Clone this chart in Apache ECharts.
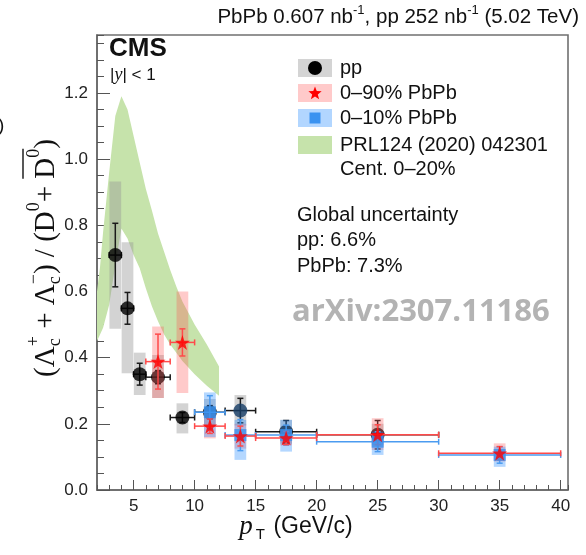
<!DOCTYPE html>
<html>
<head>
<meta charset="utf-8">
<script src="https://cdn.jsdelivr.net/npm/echarts@6/dist/echarts.min.js"></script>
<style>
  html, body { margin: 0; padding: 0; background: #ffffff; }
  #chart { width: 586px; height: 555px; }
</style>
</head>
<body>
<div id="chart"></div>
<script>
// ---- pp reference ----
const ppPt    = [3.5, 4.5, 5.5, 7, 9, 11.25, 13.75, 17.5, 25];
const ppXLo   = [3, 4, 5, 6, 8, 10, 12.5, 15, 20];
const ppXHi   = [4, 5, 6, 8, 10, 12.5, 15, 20, 30];
const ppVal   = [0.710, 0.549, 0.350, 0.341, 0.219, 0.235, 0.240, 0.176, 0.167];
const ppStat  = [0.096, 0.048, 0.033, 0.020, 0.015, 0.020, 0.037, 0.034, 0.043];
const ppSysLo = [0.487, 0.353, 0.287, 0.278, 0.171, 0.195, 0.195, 0.140, 0.135];
const ppSysHi = [0.932, 0.749, 0.415, 0.408, 0.262, 0.275, 0.287, 0.212, 0.200];

// ---- PbPb 0-90% ----
const mbPt    = [7, 9, 11.25, 13.75, 17.5, 25, 35];
const mbXLo   = [6, 8, 10, 12.5, 15, 20, 30];
const mbXHi   = [8, 10, 12.5, 15, 20, 30, 40];
const mbVal   = [0.388, 0.446, 0.193, 0.163, 0.157, 0.167, 0.111];
const mbStat  = [0.083, 0.041, 0.022, 0.030, 0.020, 0.030, 0.020];
const mbSysLo = [0.278, 0.293, 0.156, 0.125, 0.135, 0.121, 0.086];
const mbSysHi = [0.494, 0.600, 0.230, 0.200, 0.180, 0.217, 0.141];

// ---- PbPb 0-10% ----
const ctPt    = [11.25, 13.75, 17.5, 25, 35];
const ctXLo   = [10, 12.5, 15, 20, 30];
const ctXHi   = [12.5, 15, 20, 30, 40];
const ctVal   = [0.235, 0.166, 0.166, 0.146, 0.106];
const ctStat  = [0.050, 0.047, 0.030, 0.030, 0.025];
const ctSysLo = [0.160, 0.091, 0.116, 0.106, 0.070];
const ctSysHi = [0.295, 0.212, 0.212, 0.176, 0.131];

// ---- model band, PRL124 (2020) 042301, 0-20% ----
const bandPt = [2, 2.25, 2.5, 3, 3.5, 4, 4.5, 5, 5.5, 6, 6.5, 7, 7.5, 8, 8.5, 9, 10, 11, 12];
const bandLo = [0.45, 0.47, 0.49, 0.56, 0.68, 0.79, 0.76, 0.71, 0.67, 0.61, 0.555, 0.51, 0.47, 0.44, 0.415, 0.39, 0.35, 0.315, 0.285];
const bandHi = [0.60, 0.675, 0.78, 0.96, 1.13, 1.19, 1.15, 1.07, 0.99, 0.91, 0.845, 0.775, 0.72, 0.665, 0.615, 0.57, 0.50, 0.44, 0.373];

// ---- axis ticks ----
const xMajorTicks = [5, 10, 15, 20, 25, 30, 35, 40];
const yMajorTicks = [0, 0.2, 0.4, 0.6, 0.8, 1.0, 1.2];

const SANS = '"Liberation Sans", Arial, sans-serif';
const SERIF = '"Liberation Serif", "Times New Roman", serif';

const chart = echarts.init(document.getElementById('chart'), null, { renderer: 'canvas' });

function boxRenderer(fill) {
  return function (params, api) {
    const x = api.value(0), lo = api.value(1), hi = api.value(2);
    const a = api.coord([x - 0.48, hi]);
    const b = api.coord([x + 0.48, lo]);
    return { type: 'rect', shape: { x: a[0], y: a[1], width: b[0] - a[0], height: b[1] - a[1] }, style: { fill: fill } };
  };
}

function errRenderer(color) {
  return function (params, api) {
    const x = api.value(0), y = api.value(1);
    const xl = api.value(2), xh = api.value(3), yl = api.value(4), yh = api.value(5);
    const c = api.coord([x, y]);
    const l = api.coord([xl, y]), r = api.coord([xh, y]);
    const b = api.coord([x, yl]), t = api.coord([x, yh]);
    const st = { stroke: color, lineWidth: 1.5 };
    const cap = 3;
    return {
      type: 'group',
      children: [
        { type: 'line', shape: { x1: l[0], y1: c[1], x2: r[0], y2: c[1] }, style: st },
        { type: 'line', shape: { x1: l[0], y1: c[1] - cap, x2: l[0], y2: c[1] + cap }, style: st },
        { type: 'line', shape: { x1: r[0], y1: c[1] - cap, x2: r[0], y2: c[1] + cap }, style: st },
        { type: 'line', shape: { x1: c[0], y1: b[1], x2: c[0], y2: t[1] }, style: st },
        { type: 'line', shape: { x1: c[0] - cap, y1: b[1], x2: c[0] + cap, y2: b[1] }, style: st },
        { type: 'line', shape: { x1: c[0] - cap, y1: t[1], x2: c[0] + cap, y2: t[1] }, style: st }
      ]
    };
  };
}

const STAR = 'path://M50,0 L61.8,35.1 L98.1,35.1 L68.8,56.8 L79.4,91.4 L50,70.5 L20.6,91.4 L31.2,56.8 L1.9,35.1 L38.2,35.1 Z';

function starPoints(cx, cy, R) {
  const pts = [];
  const r = R * 0.42;
  for (let i = 0; i < 10; i++) {
    const ang = -Math.PI / 2 + i * Math.PI / 5;
    const rad = i % 2 === 0 ? R : r;
    pts.push([cx + rad * Math.cos(ang), cy + rad * Math.sin(ang)]);
  }
  return pts;
}

function txt(x, y, text, font, extra) {
  return {
    type: 'text', x: x, y: y,
    style: Object.assign({ text: text, font: font, fill: '#111',
      textAlign: 'left', align: 'left', textVerticalAlign: 'middle', verticalAlign: 'middle' }, extra || {})
  };
}

// y-axis title laid out piece by piece (sub/superscripts, overline)
function yTitle() {
  const ctx = document.createElement('canvas').getContext('2d');
  const big = '29px ' + SERIF, small = '18px ' + SERIF;
  const parts = [
    ['(', big, 0], ['\u039B', big, 0], ['c', small, 9], ['+', small, -12, 'stack'],
    [' + \u039B', big, 0], ['c', small, 9], ['\u2212', small, -12, 'stack'],
    [') / (D', big, 0], ['0', small, -12], ['+ ', big, 0],
    ['D', big, 0, 'olStart'], ['0', small, -12, 'olEnd'], [')', big, 0]
  ];
  let cur = 0, prevStart = 0;
  const placed = [];
  let olA = 0, olB = 0;
  parts.forEach(p => {
    ctx.font = p[1];
    const w = ctx.measureText(p[0]).width;
    let x0 = cur;
    if (p[3] === 'stack') { x0 = prevStart; }
    placed.push({ text: p[0], font: p[1], x: x0, dy: p[2] });
    if (p[3] === 'olStart') olA = x0;
    if (p[3] === 'olEnd') olB = x0 + w;
    cur = Math.max(cur, x0 + w);
    prevStart = x0;
  });
  const off = -cur / 2;
  const children = placed.map(q => txt(q.x + off, q.dy, q.text, q.font));
  children.push({ type: 'line', shape: { x1: olA + off, y1: -23, x2: olB + off, y2: -23 }, style: { stroke: '#111', lineWidth: 1.4 } });
  return { type: 'group', x: 46, y: 258, rotation: Math.PI / 2, children: children };
}

const option = {
  animation: false,
  backgroundColor: '#ffffff',
  grid: { left: 97, right: 18, top: 35, bottom: 65, show: true, borderColor: '#707070', borderWidth: 1.6, backgroundColor: 'transparent' },
  xAxis: [
    {
      type: 'value', min: 2, max: 40.6, interval: 1, position: 'bottom',
      axisLine: { show: true, lineStyle: { color: '#666', width: 1.5 } },
      axisTick: { show: true, inside: true, length: 5, lineStyle: { color: '#555', width: 1 } },
      axisLabel: {
        color: '#222', fontSize: 17, fontFamily: SANS, margin: 8,
        formatter: v => (Math.abs(v % 5) < 1e-9 && v >= 5 && v <= 40) ? String(v) : ''
      },
      splitLine: { show: false }
    },
    {
      type: 'value', min: 2, max: 40.6, position: 'bottom',
      axisLine: { show: false },
      axisTick: { show: true, inside: true, length: 10, customValues: xMajorTicks, lineStyle: { color: '#555', width: 1 } },
      axisLabel: { show: false },
      splitLine: { show: false }
    }
  ],
  yAxis: [
    {
      type: 'value', min: 0, max: 1.375, interval: 0.05, position: 'left',
      axisLine: { show: true, lineStyle: { color: '#666', width: 1.5 } },
      axisTick: { show: true, inside: true, length: 7, lineStyle: { color: '#555', width: 1 } },
      axisLabel: {
        color: '#222', fontSize: 17, fontFamily: SANS, margin: 9,
        formatter: v => {
          const k = Math.round(v / 0.2);
          return (Math.abs(v - k * 0.2) < 1e-6 && v <= 1.2 + 1e-6) ? (k * 0.2).toFixed(1) : '';
        }
      },
      splitLine: { show: false }
    },
    {
      type: 'value', min: 0, max: 1.375, position: 'left',
      axisLine: { show: false },
      axisTick: { show: true, inside: true, length: 13, customValues: yMajorTicks, lineStyle: { color: '#555', width: 1 } },
      axisLabel: { show: false },
      splitLine: { show: false }
    }
  ],
  series: [
    {
      name: 'PRL124 (2020) 042301', type: 'custom', z: 1,
      data: bandPt.map((p, i) => [p, bandLo[i], bandHi[i]]),
      renderItem: function (params, api) {
        if (params.dataIndex !== 0) return null;
        const top = bandPt.map((p, i) => api.coord([p, bandHi[i]]));
        const bot = bandPt.map((p, i) => api.coord([p, bandLo[i]])).reverse();
        return { type: 'polygon', shape: { points: top.concat(bot) }, style: { fill: '#c6e3ab' } };
      }
    },
    {
      name: 'pp syst', type: 'custom', z: 2,
      data: ppPt.map((p, i) => [p, ppSysLo[i], ppSysHi[i]]),
      renderItem: boxRenderer('rgba(150,150,150,0.42)')
    },
    {
      name: 'pp stat', type: 'custom', z: 3,
      data: ppPt.map((p, i) => [p, ppVal[i], ppXLo[i], ppXHi[i], ppVal[i] - ppStat[i], ppVal[i] + ppStat[i]]),
      renderItem: errRenderer('#1a1a1a')
    },
    {
      name: 'pp', type: 'scatter', z: 4, symbol: 'circle', symbolSize: 14,
      data: ppPt.map((p, i) => [p, ppVal[i]]),
      itemStyle: { color: params => (params.dataIndex === 6 ? '#173d66' : '#000000') }
    },
    {
      name: '0-90% syst', type: 'custom', z: 5,
      data: mbPt.map((p, i) => [p, mbSysLo[i], mbSysHi[i]]),
      renderItem: boxRenderer('rgba(255,80,80,0.30)')
    },
    {
      name: '0-10% syst', type: 'custom', z: 6,
      data: ctPt.map((p, i) => [p, ctSysLo[i], ctSysHi[i]]),
      renderItem: boxRenderer('rgba(40,140,255,0.35)')
    },
    {
      name: '0-10% stat', type: 'custom', z: 7,
      data: ctPt.map((p, i) => [p, ctVal[i], ctXLo[i], ctXHi[i], ctVal[i] - ctStat[i], ctVal[i] + ctStat[i]]),
      renderItem: errRenderer('#4b9bf0')
    },
    {
      name: '0-90% stat', type: 'custom', z: 7,
      data: mbPt.map((p, i) => [p, mbVal[i], mbXLo[i], mbXHi[i], mbVal[i] - mbStat[i], mbVal[i] + mbStat[i]]),
      renderItem: errRenderer('#ff4a4a')
    },
    {
      name: '0-10% PbPb', type: 'scatter', z: 8, symbol: 'rect', symbolSize: 12,
      data: ctPt.map((p, i) => [p, ctVal[i]]),
      itemStyle: { color: '#3a92f0' }
    },
    {
      name: '0-90% PbPb', type: 'scatter', z: 9, symbol: STAR, symbolSize: 15,
      data: mbPt.map((p, i) => [p, mbVal[i]]),
      itemStyle: { color: '#ff0000' }
    }
  ],
  graphic: [
    // header
    {
      type: 'text', x: 579, y: 17,
      style: {
        text: '{a|PbPb 0.607 nb}{s|-1}{a|, pp 252 nb}{s|-1}{a| (5.02 TeV)}',
        textAlign: 'right', align: 'right', textVerticalAlign: 'middle', verticalAlign: 'middle',
        rich: {
          a: { font: '20.5px ' + SANS, fill: '#111' },
          s: { font: '13px ' + SANS, fill: '#111', padding: [0, 0, 13, 0] }
        }
      }
    },
    txt(-2, 126, ')', '19px ' + SANS),
    txt(109, 49, 'CMS', 'bold 26px ' + SANS),
    {
      type: 'text', x: 110, y: 75,
      style: {
        text: '{a||}{i|y}{a|| < 1}',
        textAlign: 'left', align: 'left', textVerticalAlign: 'middle', verticalAlign: 'middle',
        rich: {
          a: { font: '17px ' + SANS, fill: '#111' },
          i: { font: 'italic 18px ' + SERIF, fill: '#111' }
        }
      }
    },
    // legend
    { type: 'rect', shape: { x: 298, y: 59, width: 34, height: 18 }, style: { fill: '#d4d4d4' } },
    { type: 'circle', shape: { cx: 315, cy: 68, r: 7 }, style: { fill: '#000' } },
    { type: 'rect', shape: { x: 298, y: 84, width: 34, height: 18 }, style: { fill: '#ffcaca' } },
    { type: 'polygon', shape: { points: starPoints(315, 93.5, 7) }, style: { fill: '#ff0000' } },
    { type: 'rect', shape: { x: 298, y: 109, width: 34, height: 18 }, style: { fill: '#b2d6ff' } },
    { type: 'rect', shape: { x: 309.5, y: 112.5, width: 11, height: 11 }, style: { fill: '#3a92f0' } },
    { type: 'rect', shape: { x: 298, y: 136, width: 34, height: 18 }, style: { fill: '#c6e3ab' } },
    txt(340, 68, 'pp', '20px ' + SANS),
    txt(340, 93, '0\u201390% PbPb', '20px ' + SANS),
    txt(340, 118, '0\u201310% PbPb', '20px ' + SANS),
    txt(340, 145, 'PRL124 (2020) 042301', '20px ' + SANS),
    txt(340, 169, 'Cent. 0\u201320%', '20px ' + SANS),
    // global uncertainty
    txt(297, 215, 'Global uncertainty', '20px ' + SANS),
    txt(297, 240, 'pp: 6.6%', '20px ' + SANS),
    txt(297, 266, 'PbPb: 7.3%', '20px ' + SANS),
    txt(292, 312, 'arXiv:2307.11186', 'bold 31px "Open Sans", ' + SANS, { fill: '#b3b3b3' }),
    // x-axis title
    {
      type: 'text', x: 296, y: 527,
      style: {
        text: '{p|p}{sub|T}{t| (GeV/c)}',
        textAlign: 'center', align: 'center', textVerticalAlign: 'middle', verticalAlign: 'middle',
        rich: {
          p: { font: 'italic 27px ' + SERIF, fill: '#111' },
          sub: { font: '15px ' + SANS, fill: '#111', padding: [15, 2, 0, 3] },
          t: { font: '23px ' + SANS, fill: '#111' }
        }
      }
    },
    yTitle()
  ]
};

chart.setOption(option);
</script>
</body>
</html>
